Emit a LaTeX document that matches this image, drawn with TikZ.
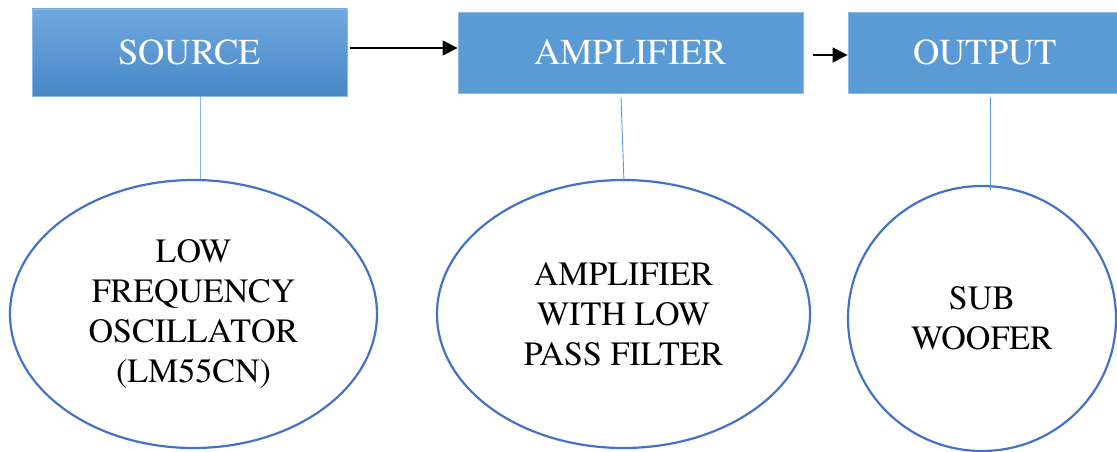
\documentclass[tikz,border=0pt]{standalone}
\usepackage{fontspec}
\setmainfont{TeX Gyre Termes}
\usetikzlibrary{shapes.geometric,arrows.meta}
\definecolor{boxblue}{HTML}{5B9BD5}
\definecolor{boxedge}{HTML}{8DB8E4}
\definecolor{srctop}{HTML}{70A8DD}
\definecolor{srcbot}{HTML}{4788C9}
\definecolor{ellblue}{HTML}{4472C4}
\definecolor{srcline}{HTML}{86B2E2}
\begin{document}
\begin{tikzpicture}[x=1pt,y=-1pt,
  blockbox/.style={rectangle, fill=boxblue, draw=boxedge, line width=0.8pt, text=white,
    font=\fontsize{36.5}{40}\selectfont, inner sep=0pt},
  bubble/.style={ellipse, draw=ellblue, line width=2.2pt, inner sep=0pt, align=center,
    font=\fontsize{34}{40}\selectfont},
  flow/.style={-{Triangle[length=15pt,width=15pt]}, line width=1.2pt, black},
  link/.style={draw=boxblue, line width=0.9pt}]
\useasboundingbox (0,0) rectangle (1117,452);

\node[blockbox, top color=srctop, bottom color=srcbot, minimum width=315pt, minimum height=87pt] (src) at (189.5,52.5) {SOURCE};
\node[blockbox, minimum width=345pt, minimum height=81pt] (amp) at (630.5,52.5) {AMPLIFIER};
\node[blockbox, minimum width=274pt, minimum height=81pt] (out) at (985,52.5) {OUTPUT};

\node[bubble, minimum width=367pt, minimum height=268pt] (e1) at (193.5,314) {LOW\\FREQUENCY\\OSCILLATOR\\(LM55CN)};
\node[bubble, minimum width=373pt, minimum height=268pt] (e2) at (623.5,314) {AMPLIFIER\\WITH LOW\\PASS FILTER};
\node[bubble, minimum width=268pt, minimum height=265pt] (e3) at (982,318.5) {SUB\\WOOFER};

\draw[flow] ([xshift=3pt,yshift=4.5pt]src.east) -- ([yshift=4.5pt]amp.west);
\draw[flow] ([xshift=10pt,yshift=-2.5pt]amp.east) -- ([yshift=-2.5pt]out.west);

\coordinate (s1) at ([xshift=11pt]src.south);
\coordinate (s2) at (s1 |- e1.north);
\draw[link, draw=srcline, line width=1.2pt] (s1) -- (s2);

\draw[link] ([xshift=-9.5pt,yshift=-4pt]amp.south) -- ([xshift=0.5pt,yshift=-3pt]e2.north);

\coordinate (o1) at ([xshift=5pt,yshift=-4pt]out.south);
\coordinate (o2) at (o1 |- e3.north);
\draw[link] (o1) -- ([yshift=-5pt]o2);
\end{tikzpicture}
\end{document}
